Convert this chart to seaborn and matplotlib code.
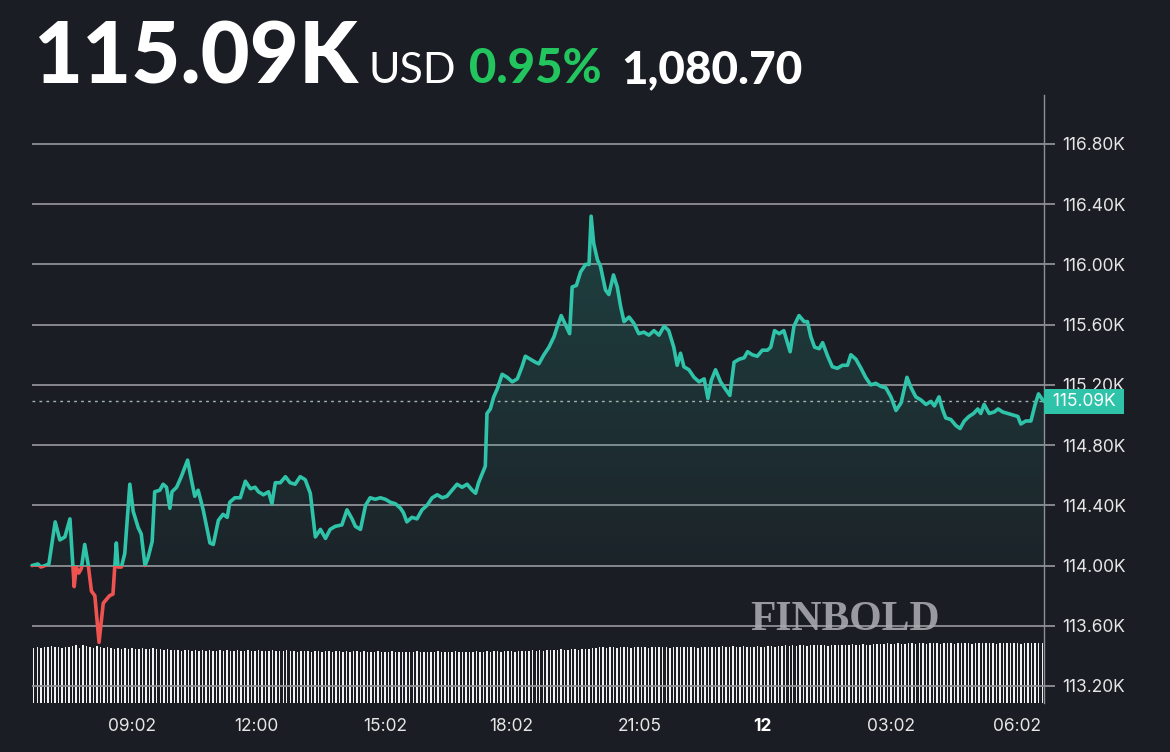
import numpy as np
import matplotlib
matplotlib.use("Agg")
import matplotlib.pyplot as plt
import seaborn as sns
from matplotlib.patches import Rectangle
from matplotlib.path import Path
from matplotlib.colors import LinearSegmentedColormap
import matplotlib.transforms as mtransforms

# ---------------- data ----------------
# hours since 06:40 (24h window) and BTC price in thousands USD
time_h = [0.00, 0.14, 0.21, 0.31, 0.40, 0.55, 0.66, 0.78, 0.90, 0.97, 1.00, 1.05, 1.11, 1.17, 1.25, 1.33,
          1.41, 1.49, 1.59, 1.69, 1.84, 1.92, 2.00, 2.04, 2.12, 2.20, 2.32, 2.40, 2.52, 2.59, 2.68, 2.75,
          2.85, 2.91, 3.03, 3.11, 3.19, 3.27, 3.32, 3.43, 3.54, 3.69, 3.78, 3.86, 3.94, 4.06, 4.22, 4.30,
          4.42, 4.53, 4.63, 4.69, 4.81, 4.94, 5.06, 5.18, 5.29, 5.37, 5.49, 5.61, 5.69, 5.77, 5.89, 6.01,
          6.12, 6.24, 6.36, 6.48, 6.60, 6.72, 6.84, 6.96, 7.07, 7.19, 7.35, 7.47, 7.59, 7.67, 7.79, 7.91,
          8.02, 8.14, 8.26, 8.38, 8.50, 8.62, 8.74, 8.81, 8.89, 9.01, 9.13, 9.25, 9.37, 9.49, 9.61, 9.73,
          9.84, 9.96, 10.08, 10.20, 10.32, 10.44, 10.52, 10.59, 10.75, 10.79, 10.87, 10.95, 11.03, 11.15,
          11.27, 11.39, 11.51, 11.62, 11.70, 11.82, 11.94, 12.02, 12.14, 12.26, 12.38, 12.46, 12.55, 12.65,
          12.75, 12.81, 12.91, 13.01, 13.13, 13.21, 13.26, 13.32, 13.41, 13.48, 13.60, 13.68, 13.79, 13.88,
          13.96, 14.04, 14.16, 14.27, 14.39, 14.51, 14.63, 14.75, 14.87, 14.99, 15.10, 15.22, 15.30, 15.38,
          15.46, 15.58, 15.70, 15.82, 15.94, 16.03, 16.11, 16.21, 16.33, 16.45, 16.55, 16.65, 16.77, 16.89,
          16.97, 17.08, 17.20, 17.32, 17.44, 17.52, 17.61, 17.72, 17.83, 17.98, 18.07, 18.19, 18.31, 18.39,
          18.47, 18.56, 18.67, 18.75, 18.87, 18.98, 19.10, 19.22, 19.34, 19.42, 19.54, 19.66, 19.77, 19.89,
          20.01, 20.13, 20.25, 20.37, 20.49, 20.61, 20.75, 20.85, 20.96, 21.08, 21.20, 21.32, 21.40, 21.51,
          21.59, 21.67, 21.79, 21.91, 22.01, 22.11, 22.22, 22.33, 22.43, 22.50, 22.58, 22.70, 22.82, 22.91,
          23.02, 23.14, 23.26, 23.38, 23.45, 23.57, 23.69, 23.79, 23.87, 23.97, 24.00]
price_k = [114.00, 114.01, 113.99, 114.00, 114.01, 114.29, 114.17, 114.19, 114.31, 113.99, 113.86, 113.99,
           113.95, 113.98, 114.14, 114.01, 113.83, 113.80, 113.49, 113.75, 113.80, 113.81, 114.15, 113.99,
           113.99, 114.08, 114.54, 114.36, 114.25, 114.21, 114.00, 114.05, 114.16, 114.49, 114.50, 114.54,
           114.52, 114.38, 114.49, 114.52, 114.59, 114.70, 114.57, 114.46, 114.50, 114.37, 114.15, 114.14,
           114.30, 114.34, 114.32, 114.42, 114.45, 114.45, 114.56, 114.51, 114.52, 114.49, 114.47, 114.49,
           114.41, 114.55, 114.55, 114.59, 114.55, 114.54, 114.59, 114.57, 114.48, 114.19, 114.24, 114.18,
           114.24, 114.26, 114.27, 114.37, 114.31, 114.26, 114.24, 114.40, 114.45, 114.44, 114.45, 114.44,
           114.42, 114.41, 114.38, 114.35, 114.29, 114.32, 114.31, 114.37, 114.40, 114.45, 114.47, 114.45,
           114.46, 114.50, 114.54, 114.52, 114.54, 114.50, 114.48, 114.55, 114.66, 115.01, 115.04, 115.12,
           115.17, 115.27, 115.25, 115.22, 115.24, 115.32, 115.39, 115.37, 115.35, 115.34, 115.40, 115.45,
           115.52, 115.59, 115.66, 115.60, 115.54, 115.85, 115.86, 115.95, 116.00, 116.00, 116.32, 116.14,
           116.03, 115.99, 115.83, 115.80, 115.93, 115.85, 115.72, 115.62, 115.65, 115.61, 115.54, 115.55,
           115.53, 115.56, 115.53, 115.59, 115.56, 115.45, 115.33, 115.41, 115.32, 115.30, 115.25, 115.22,
           115.24, 115.11, 115.23, 115.30, 115.22, 115.17, 115.13, 115.35, 115.37, 115.38, 115.42, 115.40,
           115.39, 115.43, 115.43, 115.45, 115.56, 115.54, 115.56, 115.42, 115.59, 115.66, 115.62, 115.62,
           115.52, 115.45, 115.44, 115.48, 115.39, 115.32, 115.31, 115.33, 115.33, 115.40, 115.37, 115.31,
           115.25, 115.20, 115.21, 115.19, 115.18, 115.12, 115.03, 115.08, 115.25, 115.18, 115.12, 115.10,
           115.07, 115.09, 115.06, 115.12, 115.04, 114.98, 114.97, 114.93, 114.91, 114.96, 114.99, 115.01,
           115.04, 115.01, 115.07, 115.01, 115.02, 115.04, 115.02, 115.01, 115.00, 114.99, 114.94, 114.96,
           114.96, 115.07, 115.14, 115.10, 115.09]

# volume bars (relative units), 288 five-minute bars
volume = [55, 56, 55, 56, 56, 57, 56, 56, 55, 56, 56, 57, 58, 55, 58, 57, 56, 55, 57, 56, 55, 56, 55, 54,
          55, 54, 55, 54, 55, 54, 54, 55, 54, 54, 55, 54, 54, 53, 54, 53, 53, 53, 52, 53, 53, 52, 53, 52,
          53, 52, 53, 52, 52, 53, 52, 53, 52, 52, 53, 52, 52, 53, 52, 52, 53, 52, 52, 52, 53, 52, 52, 52,
          53, 52, 52, 51, 52, 52, 52, 51, 52, 52, 51, 52, 52, 51, 52, 52, 51, 52, 51, 52, 52, 51, 52, 51,
          51, 51, 52, 51, 51, 51, 52, 51, 51, 51, 51, 51, 51, 52, 51, 51, 51, 51, 51, 52, 51, 51, 51, 51,
          52, 51, 51, 51, 51, 51, 52, 51, 51, 52, 51, 52, 52, 51, 52, 52, 52, 51, 52, 52, 52, 52, 53, 52,
          53, 52, 53, 53, 53, 53, 54, 53, 53, 54, 54, 53, 54, 54, 54, 55, 55, 56, 56, 55, 56, 56, 55, 56,
          56, 56, 55, 56, 56, 56, 56, 55, 56, 56, 56, 56, 56, 55, 56, 56, 56, 56, 56, 56, 56, 55, 56, 56,
          56, 56, 56, 56, 57, 56, 56, 57, 56, 56, 57, 56, 56, 56, 57, 56, 56, 57, 57, 56, 57, 57, 58, 57,
          58, 57, 58, 58, 57, 58, 58, 58, 58, 58, 57, 58, 58, 58, 58, 58, 58, 59, 58, 58, 59, 58, 58, 59,
          59, 59, 59, 60, 59, 59, 60, 59, 59, 60, 60, 59, 60, 60, 59, 60, 60, 60, 59, 60, 60, 60, 59, 60,
          60, 60, 60, 59, 60, 60, 60, 60, 60, 60, 59, 60, 60, 60, 60, 60, 60, 59, 60, 60, 60, 60, 60, 60]

y_ticks = [113.2, 113.6, 114.0, 114.4, 114.8, 115.2, 115.6, 116.0, 116.4, 116.8]
y_tick_labels = ["113.20K", "113.60K", "114.00K", "114.40K", "114.80K", "115.20K",
                 "115.60K", "116.00K", "116.40K", "116.80K"]
x_ticks = [2.37, 5.33, 8.37, 11.37, 14.42, 17.33, 20.37, 23.37]
x_tick_labels = ["09:02", "12:00", "15:02", "18:02", "21:05", "12", "03:02", "06:02"]

open_price = 114.00
last_price = 115.09
last_label = "115.09K"
header_price = "115.09K"
header_ccy = "USD"
header_pct = "0.95%"
header_chg = "1,080.70"

# ---------------- style ----------------
BG = "#1b1d24"
TEAL = "#2fc4aa"
RED = "#ef5350"
GRID = "#8e9096"
TXT = "#e6e6e6"

sns.set_theme(style="dark", rc={"figure.facecolor": BG, "axes.facecolor": BG,
                                "savefig.facecolor": BG})
plt.rcParams["font.family"] = ["Inter", "DejaVu Sans"]

W, H = 1170, 752
fig = plt.figure(figsize=(W / 100, H / 100), dpi=100)
rect = [32 / W, 49 / H, 1012 / W, 608 / H]

# volume axes (behind)
axv = fig.add_axes(rect)
sns.barplot(x=list(range(len(volume))), y=volume, ax=axv, color="#f2f2f2",
            width=0.42, saturation=1, native_scale=True, linewidth=0)
axv.set_xlim(-0.5, len(volume) - 0.5)
axv.set_ylim(0, 608)
axv.axis("off")

# price axes (front)
ax = fig.add_axes(rect)
ax.patch.set_alpha(0)
ax.set_xlim(0, 24)
ax.set_ylim(113.087, 117.125)

for yv in y_ticks:
    ax.axhline(yv, color=GRID, lw=1.3, zorder=1)

# gradient fill under line (above open price)
t = np.array(time_h)
p = np.array(price_k)
poly = ax.fill_between(t, p, open_price, where=p >= open_price, interpolate=True,
                       color="none", lw=0)
clip = Path.make_compound_path(*poly.get_paths())
grad = np.linspace(0, 1, 256).reshape(-1, 1)
cmap = LinearSegmentedColormap.from_list(
    "g", [(0.184, 0.77, 0.667, 0.04), (0.184, 0.77, 0.667, 0.22)])
img = ax.imshow(grad, extent=[0, 24, open_price, 116.35], origin="lower", aspect="auto",
                cmap=cmap, zorder=2, interpolation="bilinear")
img.set_clip_path(clip, transform=ax.transData)

# price line: teal above open, red below
sns.lineplot(x=time_h, y=price_k, ax=ax, color=TEAL, lw=2.6, estimator=None, sort=False, zorder=4)
teal_line = ax.lines[-1]
sns.lineplot(x=time_h, y=price_k, ax=ax, color=RED, lw=2.6, estimator=None, sort=False, zorder=4)
red_line = ax.lines[-1]
up = Rectangle((-1, open_price), 26, 10, transform=ax.transData)
dn = Rectangle((-1, open_price - 10), 26, 10, transform=ax.transData)
teal_line.set_clip_path(up)
red_line.set_clip_path(dn)

# last price dotted line
ax.axhline(last_price, color="#9fb5b0", lw=1.0, ls=(0, (2, 3)), zorder=3)

# axes styling
for s in ["left", "top", "bottom"]:
    ax.spines[s].set_visible(False)
ax.spines["right"].set_color(GRID)
ax.spines["right"].set_linewidth(1.0)
ax.yaxis.tick_right()
ax.set_yticks(y_ticks)
ax.set_yticklabels(y_tick_labels)
ax.tick_params(axis="y", colors=GRID, length=8, width=1.3, pad=5, labelsize=12.5,
               labelcolor=TXT, right=True)
ax.set_xticks(x_ticks)
ax.set_xticklabels(x_tick_labels)
ax.tick_params(axis="x", length=0, pad=11, labelsize=12.5, labelcolor=TXT)
for lbl in ax.get_xticklabels():
    if lbl.get_text() == "12":
        lbl.set_fontweight("bold")
        lbl.set_color("white")
ax.set_xlabel("")
ax.set_ylabel("")
ax.grid(False)

# price tag (covers part of the 115.20K label, as in the source)
ax.text(1.0035, last_price, " " + last_label + " ",
        transform=mtransforms.blended_transform_factory(ax.transAxes, ax.transData),
        ha="left", va="center", color="white", fontsize=12.5,
        bbox=dict(boxstyle="square,pad=0.22", fc=TEAL, ec="none"), zorder=6, clip_on=False)

# watermark
ax.text(0.803, 0.137, "FINBOLD", transform=ax.transAxes, ha="center", va="center",
        fontsize=30, fontweight="bold", color="#a7a9ae", alpha=0.9,
        family=["Liberation Serif", "DejaVu Serif"], zorder=5)

# header
base_y = 1 - 83 / H
fig.text(33 / W, base_y, header_price, fontsize=61, fontweight="black", color="white",
         va="baseline", family=["Lato", "DejaVu Sans"])
fig.text(369 / W, base_y, header_ccy, fontsize=31, fontweight="normal", color="white",
         va="baseline", family=["Lato", "DejaVu Sans"])
fig.text(469 / W, base_y, header_pct, fontsize=34, fontweight="black", color="#22c55e",
         va="baseline", family=["Lato", "DejaVu Sans"])
fig.text(621 / W, base_y, header_chg, fontsize=33, fontweight="black", color="white",
         va="baseline", family=["Lato", "DejaVu Sans"])

fig.savefig("out.png", dpi=100, facecolor=BG)
